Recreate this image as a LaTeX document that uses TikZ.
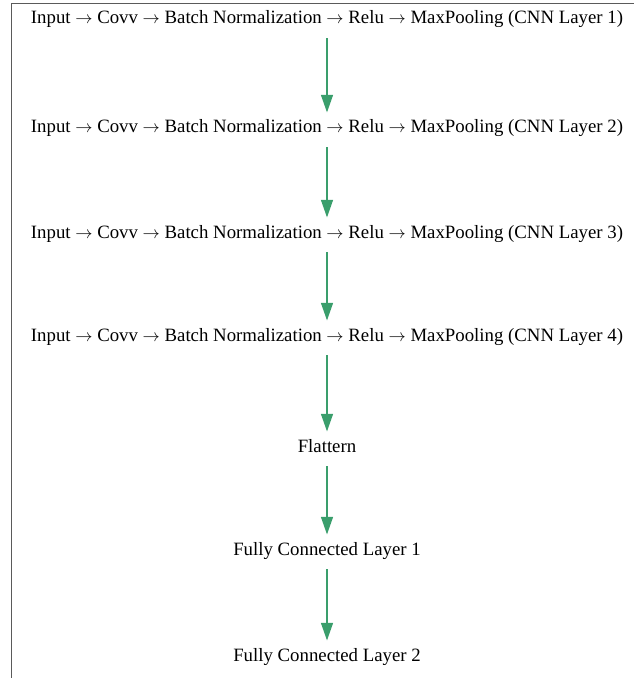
\documentclass[tikz,border=0pt]{standalone}
\usepackage{fontspec}
\setmainfont{Liberation Serif}
\usetikzlibrary{arrows.meta}
\definecolor{flowgreen}{RGB}{58,158,108}
\definecolor{framegray}{RGB}{90,90,90}
\begin{document}
\begin{tikzpicture}[x=1bp,y=-1bp,
  stage/.style={inner sep=0pt, anchor=base, text height=13bp, text depth=4bp,
    font=\fontsize{18.8bp}{22bp}\selectfont},
  flow/.style={draw=flowgreen, line width=2.9bp, shorten <=10bp, shorten >=7bp,
    -{Triangle[length=18bp,width=11.5bp]}},
  frame/.style={draw=framegray, line width=1bp}]
  \useasboundingbox (0,0) rectangle (634,678);

  % open frame: top edge and left edge
  \draw[frame] (11,678) -- (11,3.5) -- (634,3.5);

  % pipeline stages
  \node[stage] (l1) at (327,24)  {Input $\rightarrow$ Covv $\rightarrow$ Batch Normalization $\rightarrow$ Relu $\rightarrow$ MaxPooling (CNN Layer 1)};
  \node[stage] (l2) at (327,133) {Input $\rightarrow$ Covv $\rightarrow$ Batch Normalization $\rightarrow$ Relu $\rightarrow$ MaxPooling (CNN Layer 2)};
  \node[stage] (l3) at (327,238) {Input $\rightarrow$ Covv $\rightarrow$ Batch Normalization $\rightarrow$ Relu $\rightarrow$ MaxPooling (CNN Layer 3)};
  \node[stage] (l4) at (327,341) {Input $\rightarrow$ Covv $\rightarrow$ Batch Normalization $\rightarrow$ Relu $\rightarrow$ MaxPooling (CNN Layer 4)};
  \node[stage] (fl) at (327,452) {Flattern};
  \node[stage] (f1) at (327,555) {Fully Connected Layer 1};
  \node[stage] (f2) at (327,661) {Fully Connected Layer 2};

  % connections
  \draw[flow] (l1) -- (l2);
  \draw[flow] (l2) -- (l3);
  \draw[flow] (l3) -- (l4);
  \draw[flow] (l4) -- (fl);
  \draw[flow] (fl) -- (f1);
  \draw[flow] (f1) -- (f2);
\end{tikzpicture}
\end{document}
